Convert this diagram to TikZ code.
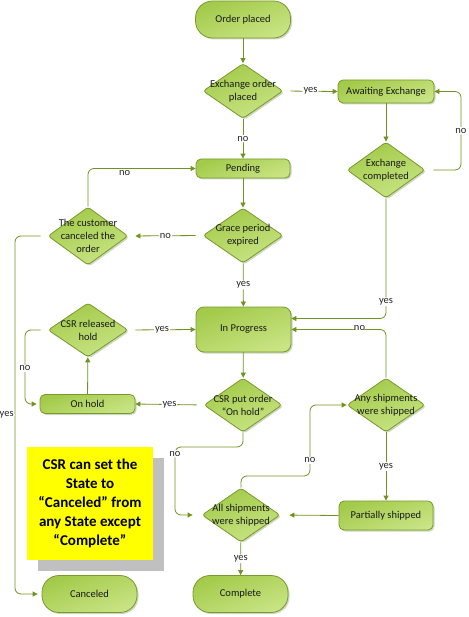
\documentclass[tikz,border=0pt]{standalone}
\usepackage{fontspec}
\setmainfont{Carlito}
\usetikzlibrary{shapes.geometric,shadows,arrows.meta,calc}
\definecolor{lin}{RGB}{112,146,32}
\definecolor{bord}{RGB}{120,154,44}
\definecolor{gA}{RGB}{163,202,74}
\definecolor{gB}{RGB}{200,228,132}
\definecolor{shd}{RGB}{205,214,190}
\definecolor{notey}{RGB}{255,255,0}
\definecolor{noteg}{RGB}{192,192,192}
\begin{document}
\begin{tikzpicture}[x=1pt,y=-1pt,
 font=\fontsize{10.5}{13}\selectfont,
 base/.style={draw=bord, line width=0.8pt, top color=gA, bottom color=gB, shading angle=20,
   drop shadow={shadow xshift=1.5pt, shadow yshift=-1.5pt, fill=shd, opacity=1},
   inner sep=0pt, align=center, text=black!90},
 term/.style={base, rectangle, rounded corners=17pt, minimum width=95pt, minimum height=37pt},
 proc/.style={base, rectangle, rounded corners=5pt, minimum width=95pt},
 dec/.style={base, diamond, rounded corners=3pt, minimum width=80pt, minimum height=55pt},
 dtext/.style={align=center, inner sep=0pt, text=black!90},
 conn/.style={draw=lin, line width=0.8pt, rounded corners=6pt, -{Triangle[length=5pt,width=5pt]}},
 lab/.style={fill=white, inner sep=1pt, text=black!85},
]
\useasboundingbox (0,0) rectangle (468,617);

% nodes
\node[term] (op) at (243,19.5) {Order placed};
\node[dec, label={[dtext]center:{Exchange order\\placed}}] (eop) at (243,91) {};
\node[proc, minimum width=96pt, minimum height=23pt] (ae) at (386,91.5) {Awaiting Exchange};
\node[dec, minimum width=78pt, minimum height=56pt, label={[dtext]center:{Exchange\\completed}}] (ec) at (386,170) {};
\node[proc, minimum width=94pt, minimum height=19pt] (pend) at (243,168.5) {Pending};
\node[dec, label={[dtext]center:{Grace period\\expired}}] (gpe) at (243,235.5) {};
\node[dec, minimum height=58pt, label={[dtext]center:{The customer\\canceled the\\order}}] (tcc) at (88,236) {};
\node[proc, rounded corners=8pt, minimum height=45pt] (ip) at (243.5,329.5) {In Progress};
\node[dec, minimum height=54pt, label={[dtext]center:{CSR released\\hold}}] (crh) at (88,330) {};
\node[proc, minimum height=19pt] (oh) at (87.5,404) {On hold};
\node[dec, minimum width=78pt, minimum height=54pt, label={[dtext]center:{CSR put order\\“On hold”}}] (cpo) at (243,405) {};
\node[dec, minimum width=78pt, minimum height=54pt, label={[dtext]center:{Any shipments\\were shipped}}] (any) at (386,405) {};
\node[dec, minimum width=78pt, minimum height=54pt, label={[dtext]center:{All shipments\\were shipped}}] (all) at (241,515) {};
\node[proc, minimum width=94pt, minimum height=29pt] (ps) at (386,515.5) {Partially shipped};
\node[term] (comp) at (240.5,594) {Complete};
\node[term] (canc) at (89.5,594) {Canceled};

\node[fill=notey, inner sep=0pt, minimum width=126pt, minimum height=113pt,
  drop shadow={shadow xshift=11pt, shadow yshift=-11pt, fill=noteg, opacity=1},
  align=center, font=\fontsize{15}{19}\selectfont\bfseries] (note) at (90,503.5)
  {CSR can set the\\State to\\“Canceled” from\\any State except\\“Complete”};

% helper coordinates
\coordinate (aeR) at (461,91.5);
\coordinate (tccL) at (15,236);
\coordinate (crhL) at (25,330);
\coordinate (cpoB) at (175,447);
\coordinate (allA) at (310,476);
\coordinate (ipY) at ($(ip.east)+(0,-11)$);

% connectors
\draw[conn] (op) -- (eop);
\draw[conn, shorten <=7pt] (eop.east) -- node[lab]{yes} (ae.west);
\draw[conn] (ae) -- (ec);
\draw[conn, shorten <=8pt] (ec.east) -| node[lab, pos=0.75]{no} (aeR) -- (ae.east);
\draw[conn] (eop) -- node[lab]{no} (pend);
\draw[conn] (pend) -- (gpe);
\draw[conn, shorten <=7pt, shorten >=7pt] (gpe.west) -- node[lab]{no} (tcc.east);
\draw[conn] (tcc.north) |- node[pos=0.67, below=1pt, inner sep=1pt, text=black!85]{no} (pend.west);
\draw[conn, shorten <=7pt, shorten >=4pt] (tcc.west) -- (tccL) |- node[pos=0.25, left=0pt, lab]{yes} (canc.west);
\draw[conn] (gpe) -- node[lab]{yes} (ip);
\draw[conn, shorten <=7pt] (crh.east) -- node[lab]{yes} (ip.west);
\draw[conn, shorten <=7pt, shorten >=3pt] (crh.west) -- (crhL) |- node[lab, pos=0.26]{no} (oh.west);
\draw[conn] (oh) -- (crh);
\draw[conn] (ip) -- (cpo);
\draw[conn, shorten <=7pt] (cpo.west) -- node[lab]{yes} (oh.east);
\draw[conn, shorten >=9pt] (cpo.south) |- (cpoB) |- node[lab, pos=0.05]{no} (all.west);
\draw[conn] (all.north) |- (allA) |- node[lab, pos=0.11]{no} (any.west);
\draw[conn] (any.north) |- node[lab, pos=0.64, yshift=2pt]{no} (ip.east);
\draw[conn] (ec.south) |- node[lab, pos=0.43]{yes} (ipY);
\draw[conn] (any) -- node[lab]{yes} (ps);
\draw[conn, shorten >=9pt] (ps.west) -- (all.east);
\draw[conn] (all) -- node[lab]{yes} (comp);
\end{tikzpicture}
\end{document}
